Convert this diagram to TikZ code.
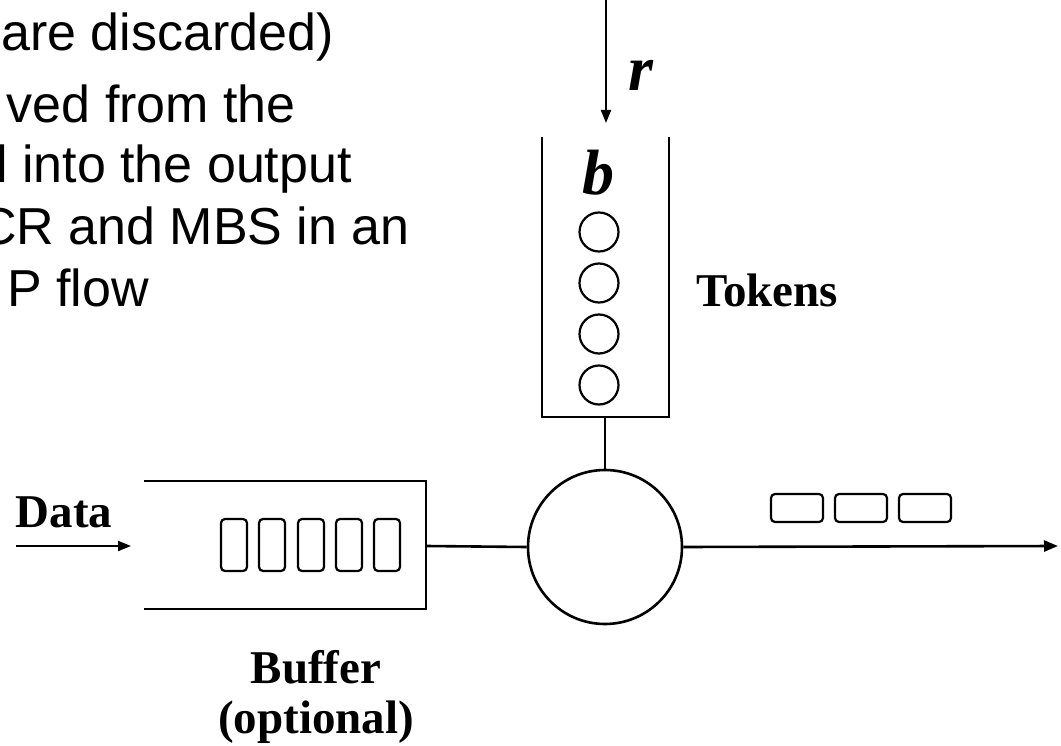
\documentclass[tikz,border=0pt]{standalone}
\usepackage{fontspec}
\setmainfont{Liberation Serif}
\newfontfamily\arialfont{Liberation Sans}
\usetikzlibrary{arrows.meta}
\tikzset{
  shape line/.style={line width=2.6pt},
  thin arrow/.style={line width=2pt,-{Triangle[length=13pt,width=10pt]}},
  token/.style={circle,draw,line width=2.2pt,minimum size=39pt,inner sep=0pt},
  pkt/.style={rectangle,rounded corners=4pt,draw,line width=2.2pt,inner sep=0pt},
  bodytext/.style={font=\arialfont\fontsize{52}{60}\selectfont,inner sep=0pt,anchor=base east},
  lbl/.style={font=\fontsize{47}{50}\selectfont\bfseries,inner sep=0pt},
  sym/.style={font=\fontsize{64}{66}\selectfont\bfseries\itshape,inner sep=0pt,anchor=base west}
}
\begin{document}
\begin{tikzpicture}[x=1pt,y=-1pt]
\useasboundingbox (0,0) rectangle (1061,746);
\begin{scope}
\clip (0,0) rectangle (1061,746);
\node[bodytext] (t1) at (334,51) {are discarded)};
\node[bodytext] (t2) at (296,123) {ved from the};
\node[bodytext,anchor=base west] (t3) at (-4,183) {l into the output};
\node[bodytext] (t4) at (410,245) {CR and MBS in an};
\node[bodytext] (t5) at (149,306) {P flow};
\end{scope}
% token bucket
\coordinate (bTL) at (542,137);
\coordinate (bBL) at (542,417);
\coordinate (bBR) at (669,417);
\coordinate (bTR) at (669,137);
\draw[shape line] (bTL) -- (bBL) -- (bBR) -- (bTR);
\coordinate (rtop) at (606,0);
\coordinate (rend) at (606,123);
\draw[thin arrow] (rtop) -- (rend);
\node[sym] (r) at (628,91) {r};
\node[sym,anchor=base] (b) at (598,195) {b};
\node[token] (k1) at (599,232) {};
\node[token] (k2) at (599,283) {};
\node[token] (k3) at (599,334) {};
\node[token] (k4) at (599,385) {};
\node[lbl,anchor=base west] (tok) at (696,307) {Tokens};
% server
\node[circle,draw,shape line,minimum size=154pt,inner sep=0pt] (srv) at (605,547) {};
\coordinate (stem) at (605,417);
\draw[shape line] (stem) -- (srv.north);
% buffer
\coordinate (fTL) at (144,481);
\coordinate (fTR) at (426,481);
\coordinate (fBR) at (426,609);
\coordinate (fBL) at (144,609);
\coordinate (fmid) at (426,546);
\draw[shape line] (fTL) -- (fTR) -- (fBR) -- (fBL);
\draw[shape line] (fmid) -- (srv.west);
\foreach \i/\x in {1/234,2/272,3/311,4/349,5/387}
  \node[pkt,minimum width=26pt,minimum height=52pt] (q\i) at (\x,545) {};
\node[lbl,anchor=base] (buf) at (316,683) {Buffer};
\node[lbl,anchor=base] (opt) at (316,733) {(optional)};
% data input
\coordinate (din) at (16,546);
\coordinate (dout) at (131,546);
\draw[thin arrow] (din) -- (dout);
\node[lbl,anchor=base] (data) at (64,527) {Data};
% output
\coordinate (oend) at (1058,546);
\draw[shape line,-{Triangle[length=14pt,width=11pt]}] (srv.east) -- (oend);
\foreach \i/\x in {1/797,2/861,3/925}
  \node[pkt,minimum width=52pt,minimum height=28pt] (o\i) at (\x,508) {};
\end{tikzpicture}
\end{document}
